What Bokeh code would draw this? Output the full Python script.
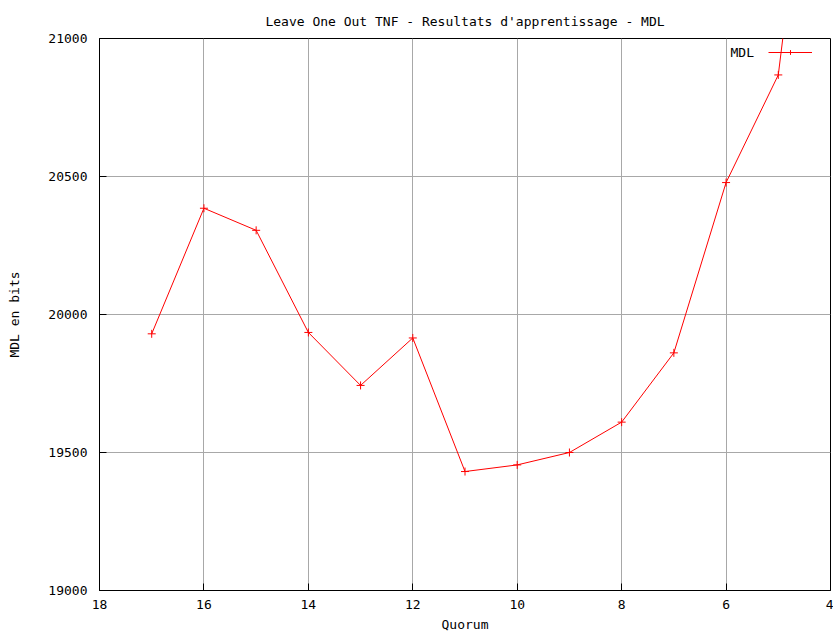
from bokeh.plotting import figure
from bokeh.models import FixedTicker, Range1d, Legend, LegendItem, Label
from bokeh.embed import file_html
from bokeh.resources import INLINE

quorum = [17, 16, 15, 14, 13, 12, 11, 10, 9, 8, 7, 6, 5, 4]
mdl = [19930, 20385, 20305, 19935, 19743, 19915, 19431, 19455, 19500, 19610, 19861, 20478, 20868, 22400]
x_ticks = [18, 16, 14, 12, 10, 8, 6, 4]
y_ticks = [19000, 19500, 20000, 20500, 21000]

FONT = "DejaVu Sans Mono"
FS = "13px"

p = figure(width=833, height=634, output_backend="svg", toolbar_location=None,
           x_range=Range1d(18, 4), y_range=Range1d(19000, 21000),
           min_border_left=99, min_border_right=3, min_border_top=38, min_border_bottom=44,
           title="Leave One Out TNF - Resultats d'apprentissage - MDL")

p.title.align = "center"
p.title.text_font = FONT
p.title.text_font_size = FS
p.title.text_font_style = "normal"
p.title.text_color = "#000000"
p.title.offset = 0
p.title.standoff = 20

p.outline_line_color = "#000000"
p.outline_line_width = 1
p.background_fill_color = "white"
p.border_fill_color = "white"

p.xaxis.ticker = FixedTicker(ticks=x_ticks)
p.yaxis.ticker = FixedTicker(ticks=y_ticks)
for ax in (p.xaxis[0], p.yaxis[0]):
    ax.major_label_text_font = FONT
    ax.major_label_text_font_size = FS
    ax.major_label_text_color = "#000000"
    ax.axis_label_text_font = FONT
    ax.axis_label_text_font_size = FS
    ax.axis_label_text_font_style = "normal"
    ax.axis_label_text_color = "#000000"
    ax.major_tick_in = 7
    ax.major_tick_out = 0
    ax.minor_tick_line_color = None
    ax.axis_line_color = "#000000"
    ax.major_tick_line_color = "#000000"

p.xaxis.axis_label = "Quorum"
p.yaxis.axis_label = "MDL en bits"
p.xaxis.major_label_standoff = 9
p.xaxis.axis_label_standoff = 5
p.yaxis.major_label_standoff = 12
p.yaxis.axis_label_standoff = 23

p.grid.grid_line_color = "#a8a8a8"
p.grid.grid_line_width = 1

ln = p.line(quorum, mdl, line_color="#ff0000", line_width=1)
sc = p.scatter(quorum, mdl, marker="cross", size=8, line_color="#ff0000", line_width=1)

legend = Legend(items=[LegendItem(label=" ", renderers=[ln, sc])],
                location=(669, 532), padding=0, margin=0, spacing=0,
                glyph_width=44, glyph_height=12, label_height=12, label_standoff=0,
                border_line_color=None, background_fill_alpha=0,
                label_text_font=FONT, label_text_font_size=FS)
p.add_layout(legend, "center")

p.add_layout(Label(x=631, y=538, x_units="screen", y_units="screen", text="MDL",
                   text_font=FONT, text_font_size=FS, text_baseline="middle",
                   text_color="#000000"))

open("out.html", "w").write(file_html(p, INLINE))
